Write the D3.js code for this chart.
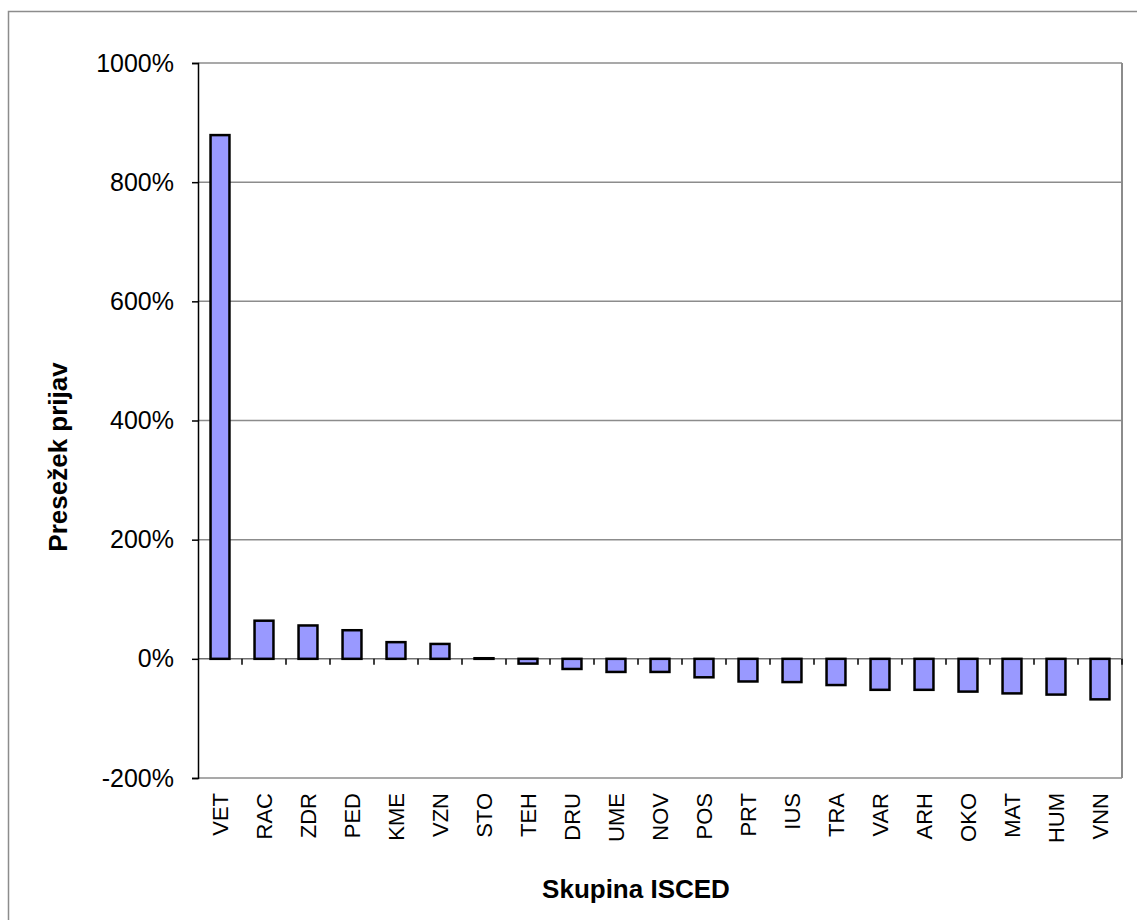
<!DOCTYPE html>
<html>
<head>
<meta charset="utf-8">
<script src="https://cdn.jsdelivr.net/npm/d3@7"></script>
<style>
html,body{margin:0;padding:0;background:#fff;}
svg{display:block;}
text{font-family:"Liberation Sans",Arial,sans-serif;fill:#000;}
</style>
</head>
<body>
<script>
const categories = ["VET","RAC","ZDR","PED","KME","VZN","STO","TEH","DRU","UME","NOV","POS","PRT","IUS","TRA","VAR","ARH","OKO","MAT","HUM","VNN"];
const values = [879,64,56,48,28,25,1,-8,-17,-22,-22,-31,-38,-39,-44,-52,-52,-55,-58,-60,-68];
const yTicks = [-200,0,200,400,600,800,1000];
const xTitle = "Skupina ISCED";
const yTitle = "Presežek prijav";

const W = 1137, H = 920;
const L = 198, R = 1122, T = 63, B = 778;

const svg = d3.select("body").append("svg").attr("width", W).attr("height", H);

// outer chart border
svg.append("rect").attr("x", 8.5).attr("y", 11.5).attr("width", W + 20).attr("height", H + 20)
  .attr("fill", "none").attr("stroke", "#8c8c8c").attr("stroke-width", 1.5);

const y = d3.scaleLinear().domain([-200, 1000]).range([B, T]);
const slot = d3.scaleBand().domain(categories).range([L, R]).padding(0);
const x = d3.scaleBand().domain(categories).range([L, R]).paddingInner(0.57).paddingOuter(0.285);

// gridlines
svg.append("g").selectAll("line").data(yTicks).join("line")
  .attr("x1", L).attr("x2", R).attr("y1", d => y(d)).attr("y2", d => y(d))
  .attr("stroke", d => d === 0 ? "#6e6e6e" : "#8c8c8c").attr("stroke-width", 1.5);

// right border of plot area
svg.append("line").attr("x1", R).attr("x2", R).attr("y1", T).attr("y2", B)
  .attr("stroke", "#8c8c8c").attr("stroke-width", 2);

// y axis
const yAxis = d3.axisLeft(y).tickValues(yTicks).tickSize(6).tickPadding(18).tickFormat(d => d + "%");
const gy = svg.append("g").attr("transform", `translate(${L},0)`).call(yAxis);
gy.select(".domain").attr("stroke", "#000").attr("stroke-width", 1.5);
gy.selectAll(".tick line").attr("stroke", "#000").attr("stroke-width", 1.5);
gy.selectAll(".tick text").style("font-size", "25px").attr("font-family", null);

// category ticks on the zero line
const bounds = categories.map(c => slot(c)).concat([R]).slice(1);
svg.append("g").selectAll("line").data(bounds).join("line")
  .attr("x1", d => d).attr("x2", d => d).attr("y1", y(0)).attr("y2", y(0) + 6)
  .attr("stroke", "#000").attr("stroke-width", 1.5);

// bars
svg.append("g").selectAll("rect").data(categories).join("rect")
  .attr("x", c => x(c))
  .attr("width", x.bandwidth())
  .attr("y", (c, i) => y(Math.max(0, values[i])))
  .attr("height", (c, i) => Math.abs(y(values[i]) - y(0)))
  .attr("fill", "#9999ff").attr("stroke", "#000").attr("stroke-width", 2.5);

// category labels
svg.append("g").selectAll("text").data(categories).join("text")
  .attr("transform", c => `translate(${slot(c) + slot.bandwidth() / 2},793) rotate(-90)`)
  .attr("text-anchor", "end").attr("dy", "0.36em")
  .style("font-size", "22px").text(c => c);

// axis titles
svg.append("text").attr("x", 636).attr("y", 898).attr("text-anchor", "middle")
  .style("font-size", "26px").style("font-weight", "bold").text(xTitle);
svg.append("text").attr("transform", "translate(67,457) rotate(-90)").attr("text-anchor", "middle")
  .style("font-size", "26px").style("font-weight", "bold").text(yTitle);
</script>
</body>
</html>
